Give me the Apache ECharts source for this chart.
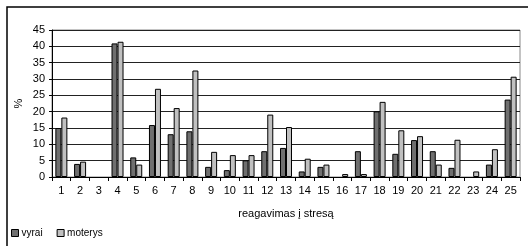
<!DOCTYPE html>
<html>
<head>
<meta charset="utf-8">
<script src="https://cdn.jsdelivr.net/npm/echarts@6/dist/echarts.min.js"></script>
<style>
  html, body { margin: 0; padding: 0; background: #fff; }
  #chart { width: 528px; height: 246px; }
</style>
</head>
<body>
<div id="chart"></div>
<script>
// reakcijos i stresa, % pagal lyti
const categories = ['1', '2', '3', '4', '5', '6', '7', '8', '9', '10', '11', '12', '13',
  '14', '15', '16', '17', '18', '19', '20', '21', '22', '23', '24', '25']
const vyrai = [15, 4, 0, 40.9, 6, 15.9, 13.1, 14, 3.1, 2.1, 5.1, 7.9, 8.9,
  1.7, 3.1, 0, 7.9, 20.1, 7.1, 11.3, 7.9, 2.8, 0, 3.8, 23.7]
const moterys = [18.2, 4.7, 0, 41.4, 3.8, 27, 21.1, 32.6, 7.7, 6.7, 6.7, 19.1, 15.3,
  5.6, 3.8, 0.9, 0.9, 23, 14.3, 12.5, 3.8, 11.4, 1.7, 8.5, 30.7]
const yTicks = { min: 0, max: 45, interval: 5 }

const font = 'Liberation Sans, Arial, sans-serif'

const chart = echarts.init(document.getElementById('chart'))

// zero bars are not drawn in the original
const bars = arr => arr.map(v => (v === 0 ? null : v))

chart.setOption({
  animation: false,
  textStyle: { fontFamily: font },
  // outer frame of the chart area
  graphic: [{
    type: 'rect',
    shape: { x: 7, y: 7, width: 560, height: 280 },
    style: { fill: 'none', stroke: '#000', lineWidth: 1.5 },
    silent: true
  }],
  grid: {
    left: 52,
    right: 8,
    top: 30,
    bottom: 69,
    show: true,
    borderColor: '#888',
    borderWidth: 1
  },
  legend: {
    left: 6,
    top: 223,
    itemWidth: 7,
    itemHeight: 7,
    itemGap: 14,
    icon: 'rect',
    textStyle: { fontSize: 10, color: '#000', fontFamily: font, padding: [0, 0, 0, -2] },
    data: [
      { name: 'vyrai', itemStyle: { borderColor: '#000', borderWidth: 1 } },
      { name: 'moterys', itemStyle: { borderColor: '#000', borderWidth: 1 } }
    ]
  },
  xAxis: {
    type: 'category',
    data: categories,
    name: 'reagavimas į stresą',
    nameLocation: 'middle',
    nameGap: 31,
    nameTextStyle: { fontSize: 11, color: '#000', fontFamily: font },
    axisLine: { lineStyle: { color: '#000', width: 1 } },
    axisTick: { show: true, length: 4, lineStyle: { color: '#000' } },
    axisLabel: { fontSize: 11, color: '#000', margin: 8, fontFamily: font }
  },
  yAxis: {
    type: 'value',
    min: yTicks.min,
    max: yTicks.max,
    interval: yTicks.interval,
    name: '%',
    nameLocation: 'middle',
    nameGap: 28,
    nameMoveOverlap: false,
    nameRotate: 90,
    nameTextStyle: { fontSize: 11, color: '#000', fontFamily: font },
    axisLine: { show: true, lineStyle: { color: '#000', width: 1 } },
    axisTick: { show: true, length: 3, lineStyle: { color: '#000' } },
    axisLabel: { fontSize: 11, color: '#000', margin: 7, fontFamily: font },
    splitLine: { show: true, lineStyle: { color: '#222', width: 1 } }
  },
  series: [{
    name: 'vyrai',
    type: 'bar',
    data: bars(vyrai),
    barWidth: 6,
    barGap: '0%',
    itemStyle: { color: '#6f6f6f', borderColor: '#000', borderWidth: 1 }
  }, {
    name: 'moterys',
    type: 'bar',
    data: bars(moterys),
    barWidth: 6,
    barGap: '0%',
    itemStyle: { color: '#c0c0c0', borderColor: '#000', borderWidth: 1 }
  }]
})
</script>
</body>
</html>
